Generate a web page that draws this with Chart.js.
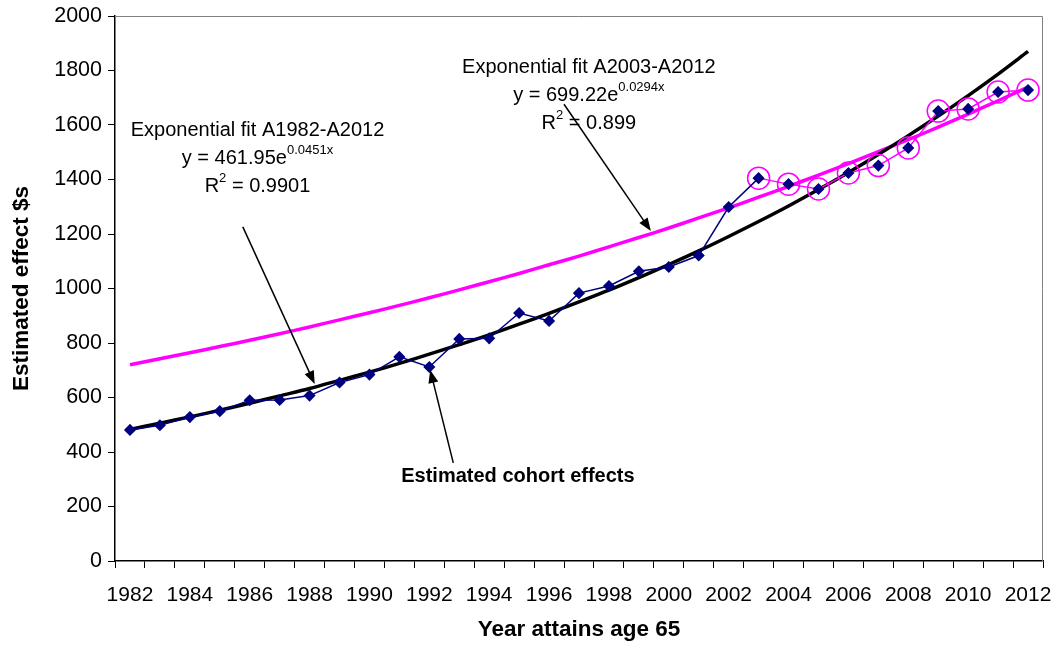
<!DOCTYPE html>
<html>
<head>
<meta charset="utf-8">
<script src="https://cdn.jsdelivr.net/npm/chart.js@4/dist/chart.umd.min.js"></script>
<style>
  html, body { margin: 0; padding: 0; background: #fff; }
  #wrap { width: 1058px; height: 645px; }
</style>
</head>
<body>
<div id="wrap"><canvas id="myChart" width="1058" height="645"></canvas></div>
<script>
// years on the x axis
var years = ["1982", "1983", "1984", "1985", "1986", "1987", "1988", "1989", "1990", "1991",
  "1992", "1993", "1994", "1995", "1996", "1997", "1998", "1999", "2000", "2001",
  "2002", "2003", "2004", "2005", "2006", "2007", "2008", "2009", "2010", "2011", "2012"];

// estimated cohort effects
var cohortEffects = [481, 498, 528, 550, 590, 591, 607, 655, 684, 749,
  712, 815, 817, 910, 881, 983, 1009, 1063, 1079, 1121,
  1299, 1405, 1383, 1365, 1424, 1451, 1516, 1651, 1659, 1721, 1728];

// the circled points, A2003-A2012
var recentEffects = [null, null, null, null, null, null, null, null, null, null,
  null, null, null, null, null, null, null, null, null, null,
  null, 1405, 1383, 1365, 1424, 1451, 1516, 1651, 1659, 1721, 1728];

// exponential fit A1982-A2012 (black curve)
var fitAll = [483, 506, 529, 553, 579, 606, 633, 663, 693, 725,
  759, 794, 830, 869, 909, 951, 994, 1040, 1088, 1138,
  1191, 1246, 1303, 1363, 1426, 1492, 1561, 1633, 1708, 1787, 1870];

// exponential fit A2003-A2012 (magenta curve)
var fitRecent = [720, 742, 764, 787, 810, 834, 859, 885, 911, 938,
  966, 995, 1025, 1055, 1087, 1119, 1153, 1187, 1222, 1259,
  1296, 1335, 1375, 1416, 1458, 1502, 1546, 1592, 1640, 1689, 1739];

var yTicks = [0, 200, 400, 600, 800, 1000, 1200, 1400, 1600, 1800, 2000];

var NAVY = "#000080";
var MAGENTA = "#FF00FF";
var FONT = "'Liberation Sans', Arial, sans-serif";

// text + arrows, placed in data units (category index, value)
var notes = [
  { lines: ["Exponential fit A1982-A2012", ["y = 461.95e", "0.0451x"], ["R", "2", " = 0.9901"]], at: [4.26, 1580] },
  { lines: ["Exponential fit A2003-A2012", ["y = 699.22e", "0.0294x"], ["R", "2", " = 0.899"]], at: [15.33, 1810] }
];
var arrows = [
  { from: [3.77, 1226], to: [6.17, 650] },
  { from: [14.5, 1676], to: [17.4, 1211] },
  { from: [10.8, 360], to: [10.03, 701] }
];

function drawArrow(ctx, x1, y1, x2, y2) {
  var ang = Math.atan2(y2 - y1, x2 - x1);
  var hl = 13, hw = 5;
  ctx.beginPath();
  ctx.moveTo(x1, y1);
  ctx.lineTo(x2 - Math.cos(ang) * hl * 0.8, y2 - Math.sin(ang) * hl * 0.8);
  ctx.stroke();
  ctx.beginPath();
  ctx.moveTo(x2, y2);
  ctx.lineTo(x2 - Math.cos(ang) * hl - Math.sin(ang) * hw, y2 - Math.sin(ang) * hl + Math.cos(ang) * hw);
  ctx.lineTo(x2 - Math.cos(ang) * hl + Math.sin(ang) * hw, y2 - Math.sin(ang) * hl - Math.cos(ang) * hw);
  ctx.closePath();
  ctx.fill();
}

function drawLine(ctx, parts, cx, cy, size) {
  // parts: string, or [base, sup] or [base, sup, rest]
  if (typeof parts === "string") parts = [parts];
  var big = size + "px " + FONT, small = Math.round(size * 0.65) + "px " + FONT;
  ctx.font = big;
  var w0 = ctx.measureText(parts[0]).width;
  var w2 = parts[2] ? ctx.measureText(parts[2]).width : 0;
  ctx.font = small;
  var w1 = parts[1] ? ctx.measureText(parts[1]).width : 0;
  var x = cx - (w0 + w1 + w2) / 2;
  ctx.textAlign = "left";
  ctx.textBaseline = "middle";
  ctx.font = big;
  ctx.fillText(parts[0], x, cy);
  if (parts[1]) {
    ctx.font = small;
    ctx.fillText(parts[1], x + w0, cy - size * 0.4);
  }
  if (parts[2]) {
    ctx.font = big;
    ctx.fillText(parts[2], x + w0 + w1, cy);
  }
}

var extras = {
  id: "extras",
  afterDatasetsDraw: function(chart) {
    var ctx = chart.ctx, xs = chart.scales.x, ys = chart.scales.y, a = chart.chartArea;
    ctx.save();
    // light frame on top and right
    ctx.strokeStyle = "#808080";
    ctx.lineWidth = 1;
    ctx.beginPath();
    ctx.moveTo(a.left, a.top + 0.5);
    ctx.lineTo(a.right - 0.5, a.top + 0.5);
    ctx.lineTo(a.right - 0.5, a.bottom);
    ctx.stroke();

    ctx.fillStyle = "#000";
    ctx.strokeStyle = "#000";
    ctx.lineWidth = 1.5;
    arrows.forEach(function(ar) {
      drawArrow(ctx, xs.getPixelForValue(ar.from[0]), ys.getPixelForValue(ar.from[1]),
        xs.getPixelForValue(ar.to[0]), ys.getPixelForValue(ar.to[1]));
    });

    notes.forEach(function(n) {
      var cx = xs.getPixelForValue(n.at[0]), cy = ys.getPixelForValue(n.at[1]);
      n.lines.forEach(function(l, i) { drawLine(ctx, l, cx, cy + i * 28, 20); });
    });

    ctx.font = "bold 20px " + FONT;
    ctx.textAlign = "center";
    ctx.textBaseline = "middle";
    ctx.fillText("Estimated cohort effects", xs.getPixelForValue(12.96), ys.getPixelForValue(309));
    ctx.restore();
  }
};

var ctx = document.getElementById("myChart").getContext("2d");

new Chart(ctx, {
  type: "line",
  data: {
    labels: years,
    datasets: [
      {
        label: "Estimated cohort effects",
        data: cohortEffects,
        borderColor: NAVY,
        borderWidth: 1.5,
        segment: {
          borderColor: function(c) { return c.p0DataIndex >= 21 ? MAGENTA : NAVY; }
        },
        pointStyle: "rectRot",
        pointRadius: 5,
        pointBackgroundColor: NAVY,
        pointBorderColor: NAVY,
        tension: 0,
        order: 0
      },
      {
        label: "A2003-A2012",
        data: recentEffects,
        showLine: false,
        pointStyle: "circle",
        pointRadius: 11,
        pointBorderWidth: 1.5,
        pointBorderColor: MAGENTA,
        pointBackgroundColor: "rgba(0,0,0,0)",
        order: 1
      },
      {
        label: "Exponential fit A1982-A2012",
        data: fitAll,
        borderColor: "#000",
        borderWidth: 3.5,
        pointRadius: 0,
        tension: 0.3,
        order: 2
      },
      {
        label: "Exponential fit A2003-A2012",
        data: fitRecent,
        borderColor: MAGENTA,
        borderWidth: 3.5,
        pointRadius: 0,
        tension: 0.3,
        order: 3
      }
    ]
  },
  options: {
    responsive: false,
    animation: false,
    layout: { padding: { top: 16, right: 15, left: 0, bottom: 0 } },
    plugins: {
      legend: { display: false },
      tooltip: { enabled: false }
    },
    scales: {
      x: {
        offset: true,
        grid: { offset: true, drawOnChartArea: false, drawTicks: true, tickLength: 7, color: "#000", lineWidth: 1 },
        border: { color: "#000", width: 1.5 },
        ticks: {
          autoSkip: false,
          maxRotation: 0,
          padding: 15,
          color: "#000",
          font: { family: FONT, size: 21 },
          callback: function(v, i) { return i % 2 === 0 ? years[i] : ""; }
        },
        title: {
          display: true,
          text: "Year attains age 65",
          color: "#000",
          font: { family: FONT, size: 22.5, weight: "bold" },
          padding: { top: 0, bottom: 1.5 }
        },
        afterFit: function(s) { s.height = 84; s.paddingLeft = 0; s.paddingRight = 0; }
      },
      y: {
        min: 0,
        max: 2000,
        grid: { drawOnChartArea: false, drawTicks: true, tickLength: 7, color: "#000", lineWidth: 1 },
        border: { color: "#000", width: 1.5 },
        afterBuildTicks: function(s) { s.ticks = yTicks.map(function(v) { return { value: v }; }); },
        ticks: {
          padding: 6,
          color: "#000",
          font: { family: FONT, size: 21.5 },
          callback: function(v) { return String(v); }
        },
        title: {
          display: true,
          text: "Estimated effect $s",
          color: "#000",
          font: { family: FONT, size: 22.5, weight: "bold" },
          padding: { top: 8.5, bottom: 0 }
        },
        afterFit: function(s) { s.width = 115; s.paddingTop = 0; s.paddingBottom = 0; }
      }
    }
  },
  plugins: [extras]
});
</script>
</body>
</html>
